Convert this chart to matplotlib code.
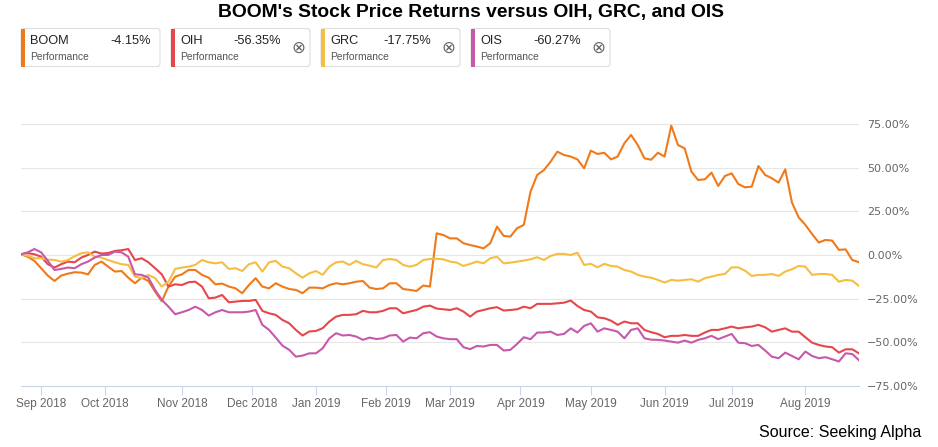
import numpy as np
import pandas as pd
import matplotlib
matplotlib.use('Agg')
import matplotlib.pyplot as plt
from matplotlib.patches import FancyBboxPatch, Rectangle
from matplotlib.ticker import FuncFormatter


# trading calendar (NYSE holidays inside the window)
holidays = ['2018-09-03', '2018-11-22', '2018-12-05', '2018-12-25', '2019-01-01',
            '2019-01-21', '2019-02-18', '2019-04-19', '2019-05-27', '2019-07-04']
days = pd.bdate_range('2018-08-24', '2019-08-23', freq='C', holidays=holidays)

# returns in %, read every 2nd trading day
boom = [0.4, -1.0, -3.4, -7.6, -11.8, -14.9, -11.8, -10.7, -9.9, -10.1, -11.1, -5.7, -3.8, -6.7, -9.5, -9.2,
        -13.0, -16.2, -13.0, -14.9, -21.0, -26.5, -18.0, -12.4, -11.1, -8.6, -8.6, -11.4, -13.0, -16.8, -16.4, -18.1,
        -19.1, -21.9, -17.2, -13.3, -18.1, -19.1, -16.2, -18.1, -19.5, -20.0, -21.9, -18.7, -18.7, -19.1, -17.2,
        -16.2, -16.8, -16.2, -15.3, -14.9, -18.7, -19.5, -19.1, -16.2, -16.2, -19.5, -20.0, -20.6, -17.5, -18.1,
        12.4, 11.4, 9.5, 9.5, 6.7, 5.7, 4.8, 3.8, 6.7, 16.2, 10.9, 10.5, 15.3, 17.2, 36.2, 45.8,
        48.6, 53.4, 59.1, 57.2, 56.3, 54.7, 49.6, 59.7, 57.8, 58.5, 54.7, 56.3, 63.9, 68.7, 62.9, 55.3,
        54.5, 58.5, 56.3, 74.0, 62.9, 61.0, 47.7, 42.9, 43.3, 47.1, 39.5, 45.2, 46.7, 40.6, 38.7, 39.1,
        50.9, 45.8, 43.9, 41.4, 49.0, 30.0, 21.5, 17.2, 12.0, 7.1, 8.6, 8.2, 2.9, 3.2, -2.9, -4.15]
oih = [0.4, 1.0, 0.4, -1.0, -5.3, -7.2, -5.3, -3.8, -4.2, -1.5, 0.0, 1.9, 0.8, 1.1, 2.3, 2.7,
       3.4, -2.9, -1.9, -4.2, -7.6, -11.1, -18.1, -16.8, -17.2, -15.6, -15.3, -18.1, -24.8, -24.4, -22.9, -27.1,
       -26.7, -26.3, -26.3, -25.7, -32.0, -33.4, -34.3, -37.2, -39.1, -42.9, -46.1, -43.8, -43.5, -41.9, -38.1,
       -35.3, -34.3, -34.3, -33.9, -32.0, -32.8, -32.8, -32.0, -30.5, -30.5, -33.4, -32.4, -31.5, -29.6, -29.0,
       -30.7, -31.1, -31.5, -30.5, -32.4, -35.3, -32.4, -31.5, -30.5, -29.9, -31.8, -31.5, -31.1, -29.6, -30.5, -28.0,
       -28.0, -28.0, -27.7, -27.3, -26.1, -29.2, -31.5, -32.4, -35.7, -36.2, -37.6, -40.0, -38.1, -39.1, -39.1, -42.9,
       -44.2, -45.2, -47.1, -46.3, -46.3, -45.8, -46.3, -46.3, -44.4, -42.9, -42.9, -42.0, -41.0, -42.0, -41.4, -41.0,
       -40.0, -41.4, -43.9, -42.9, -42.0, -43.9, -43.9, -47.1, -50.2, -51.5, -52.4, -52.8, -55.9, -54.0, -54.0, -56.35]
grc = [0.4, -0.4, -1.9, -1.9, -2.7, -2.9, -3.8, -2.9, -0.8, 1.0, 1.5, -1.0, -1.5, -2.9, -4.2, -5.3,
       -5.7, -12.4, -13.3, -11.4, -13.3, -18.1, -15.3, -8.0, -7.2, -6.7, -5.7, -2.9, -4.2, -4.8, -4.2, -8.0,
       -7.6, -9.2, -5.3, -4.2, -9.5, -4.2, -3.4, -6.7, -7.6, -10.5, -13.0, -10.5, -9.2, -11.4, -6.7,
       -4.2, -3.8, -5.7, -3.4, -5.3, -6.1, -7.2, -2.9, -2.3, -2.9, -5.7, -6.7, -5.7, -2.9, -2.3,
       -2.2, -2.5, -3.8, -4.4, -6.3, -5.1, -3.8, -4.8, -1.9, -1.0, -4.8, -4.4, -3.8, -3.2, -2.5, -1.3,
       -2.9, -0.6, 0.6, 0.6, 0.0, 1.3, -5.7, -5.1, -7.1, -5.1, -6.3, -6.7, -8.6, -9.5, -11.4, -12.4,
       -13.0, -14.3, -15.8, -14.3, -14.7, -14.3, -13.9, -15.3, -13.3, -12.4, -11.4, -10.9, -7.1, -7.1, -9.0, -12.0,
       -11.4, -11.4, -10.9, -12.0, -9.5, -8.2, -6.3, -6.7, -11.4, -10.9, -10.9, -11.4, -15.3, -14.3, -14.7, -17.75]
ois = [0.4, 1.5, 3.4, 1.5, -3.4, -8.6, -8.0, -7.2, -7.6, -5.3, -3.8, -1.5, 0.0, 0.0, 1.9, 1.5,
       -1.0, -11.1, -11.4, -13.0, -20.0, -25.7, -29.6, -33.9, -32.8, -31.5, -29.6, -31.5, -34.7, -32.8, -31.5, -32.8,
       -32.8, -32.8, -32.4, -31.5, -40.0, -42.9, -47.3, -51.9, -54.3, -58.2, -57.6, -56.3, -56.3, -53.4, -47.7,
       -44.8, -46.1, -45.8, -46.7, -48.6, -47.3, -48.1, -47.7, -46.1, -45.8, -49.6, -47.3, -47.7, -44.8, -44.2,
       -46.7, -47.7, -48.2, -48.2, -52.8, -53.9, -52.1, -52.4, -51.5, -51.5, -54.7, -54.3, -50.9, -47.1, -48.2, -44.4,
       -44.4, -43.9, -45.8, -45.2, -42.0, -44.4, -40.6, -39.1, -43.9, -42.0, -42.9, -43.9, -47.7, -42.9, -42.0, -47.7,
       -48.5, -48.6, -49.0, -49.6, -50.2, -49.0, -50.2, -48.6, -47.7, -46.3, -48.2, -46.7, -45.2, -50.2, -50.5, -52.1,
       -51.5, -54.7, -58.2, -59.1, -55.9, -57.8, -59.7, -55.3, -57.8, -59.1, -58.5, -59.7, -61.0, -56.3, -56.7, -60.27]

names = ['BOOM', 'OIH', 'GRC', 'OIS']
series = [boom, oih, grc, ois]
colors = ['#f07a1a', '#e5474c', '#f5be41', '#c659aa']
final = ['-4.15%', '-56.35%', '-17.75%', '-60.27%']

x = np.arange(0, len(days), 2)
months = pd.date_range('2018-09-01', '2019-08-01', freq='MS')
tick_pos = [int(np.searchsorted(days, m)) for m in months]
tick_lab = [m.strftime('%b %Y') for m in months]
yticks = [-75, -50, -25, 0, 25, 50, 75]

W, H = 938, 447
fig = plt.figure(figsize=(W / 100, H / 100), dpi=100)
ax = fig.add_axes([21 / W, 1 - 386 / H, 838 / W, (386 - 97.7) / H])

for vals, c in zip(series, colors):
    ax.plot(x, vals, color=c, lw=1.5, solid_joinstyle='round')

ax.set_xlim(0, len(days) - 1)
ax.set_ylim(-75, 90)
ax.set_yticks(yticks)
ax.yaxis.tick_right()
ax.yaxis.set_major_formatter(FuncFormatter(lambda v, p: f'{v:.2f}%'.replace('-', '\u2212')))
ax.tick_params(axis='y', length=0, pad=6, labelsize=8, labelcolor='#666666')
ax.grid(axis='y', color='#e6e6e6', lw=0.8)
ax.set_axisbelow(True)
ax.set_xticks(tick_pos)
ax.set_xticklabels(tick_lab, fontfamily='Liberation Sans')
ax.tick_params(axis='x', length=6.5, width=0.8, color='#ccd6eb', pad=2, labelsize=8.5, labelcolor='#666666')
for s in ['top', 'left', 'right']:
    ax.spines[s].set_visible(False)
ax.spines['bottom'].set_color('#ccd6eb')
ax.spines['bottom'].set_linewidth(0.8)

# overlay in pixel coords for title, legend boxes, source
ov = fig.add_axes([0, 0, 1, 1])
ov.set_xlim(0, W)
ov.set_ylim(H, 0)
ov.axis('off')
ov.patch.set_alpha(0)

ov.text(471, 13, "BOOM's Stock Price Returns versus OIH, GRC, and OIS", ha='center', va='center',
        fontsize=13.9, fontweight='bold', fontfamily='Liberation Sans', color='black')

for i, (n, c, v) in enumerate(zip(names, colors, final)):
    x0 = 21 + 150 * i
    box = FancyBboxPatch((x0, 28.5), 139, 38, boxstyle='round,pad=0,rounding_size=3',
                         fc='white', ec='#dddddd', lw=0.8)
    ov.add_patch(box)
    ov.add_patch(Rectangle((x0, 28.5), 3.5, 38, fc=c, ec='none'))
    ov.text(x0 + 9, 41, n, ha='left', va='center', fontsize=9.2, fontfamily='Liberation Sans', color='#222222')
    ov.text(x0 + 9, 57.5, 'Performance', ha='left', va='center', fontsize=7.4, fontfamily='Liberation Sans',
            color='#555555')
    if i == 0:
        ov.text(x0 + 130, 41, v, ha='right', va='center', fontsize=9.2, fontfamily='Liberation Sans', color='#222222')
    else:
        ov.text(x0 + 110, 41, v, ha='right', va='center', fontsize=9.2, fontfamily='Liberation Sans', color='#222222')
        ov.text(x0 + 127, 48, '\u2297', ha='center', va='center', fontsize=12, color='#666666')

ov.text(921, 432, 'Source: Seeking Alpha', ha='right', va='center', fontsize=11.5,
        fontfamily='Liberation Sans', color='black')

fig.savefig('out.png', dpi=100)
